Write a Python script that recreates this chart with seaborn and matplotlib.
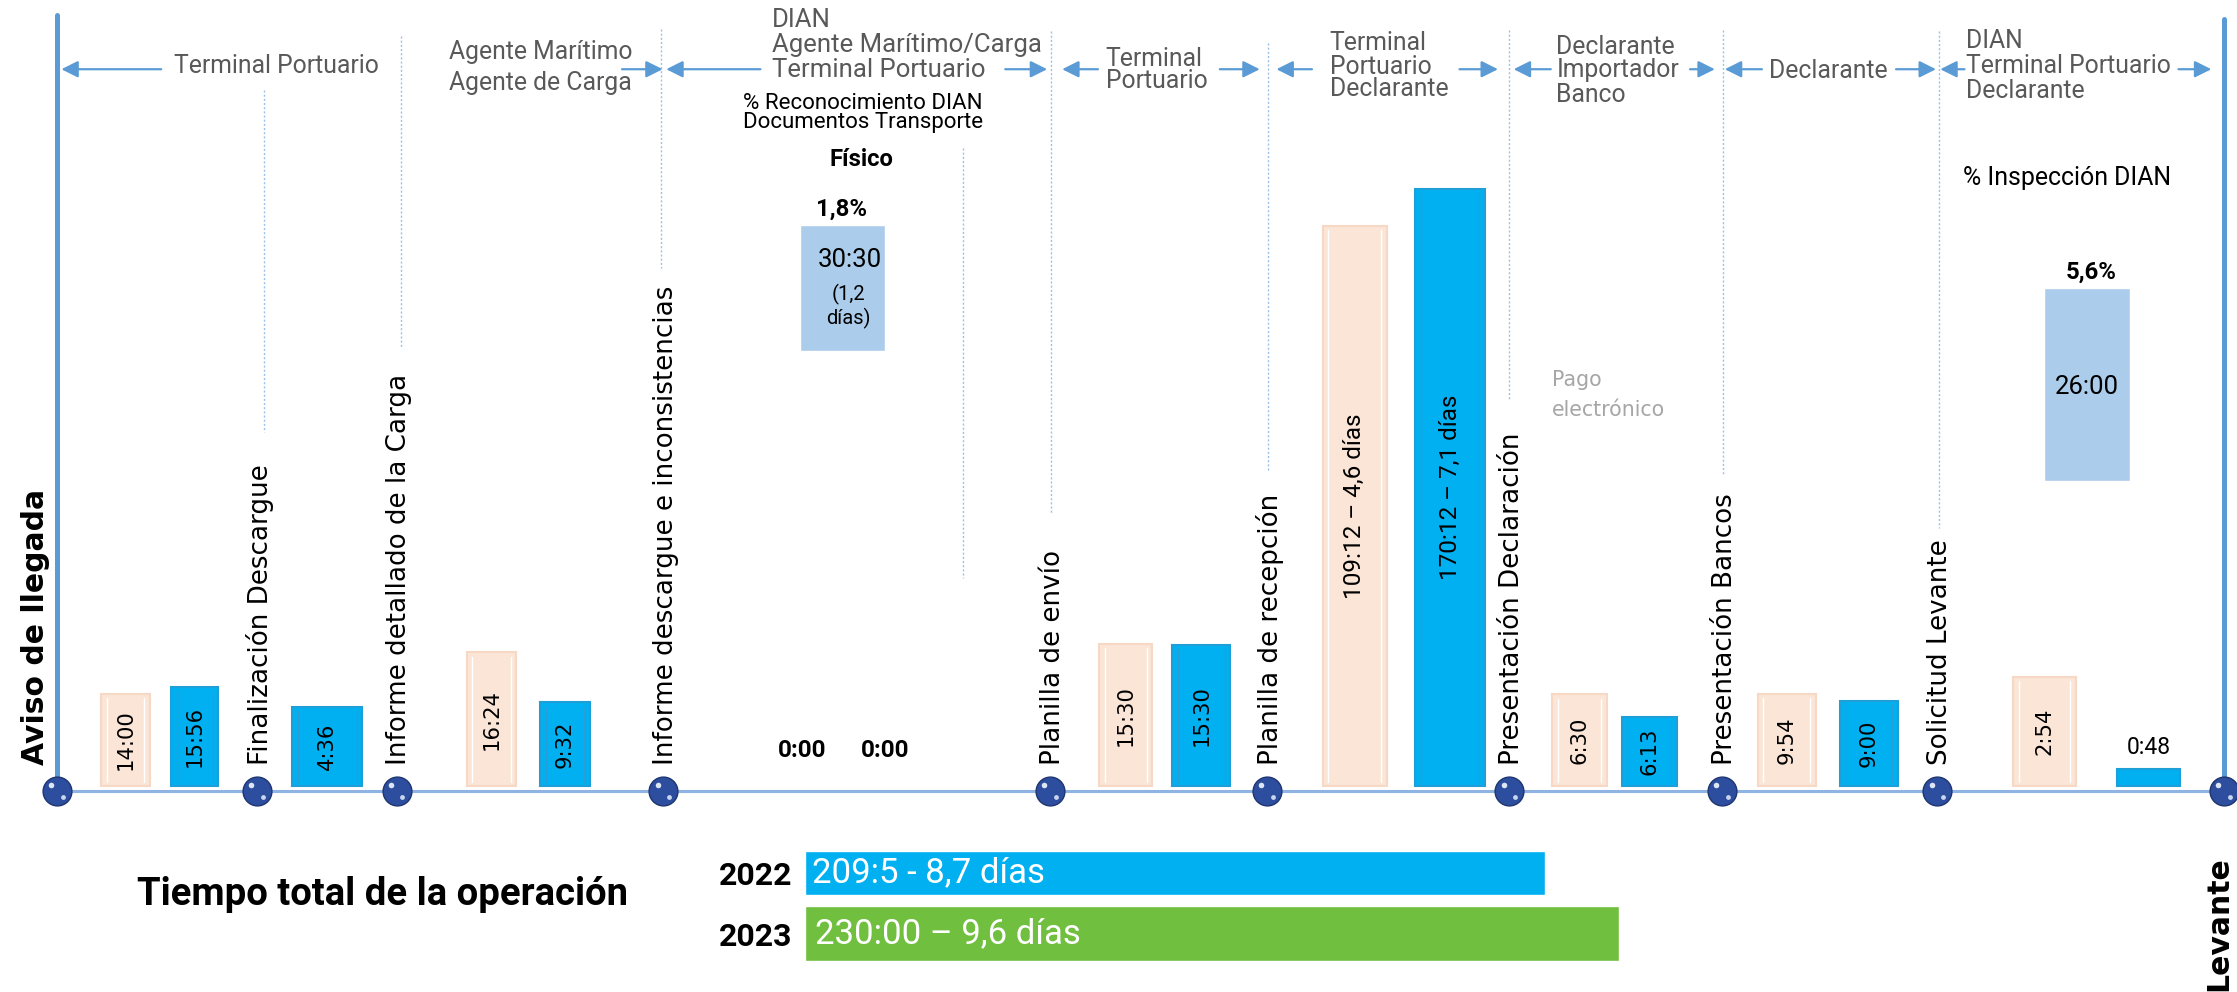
import numpy as np
import pandas as pd
import seaborn as sns
import matplotlib.pyplot as plt

sns.set_theme(style='white')
plt.rcParams['font.family'] = ['DejaVu Sans']

# ---- datos ----
hitos = ['Aviso de llegada', 'Finalización Descargue', 'Informe detallado de la Carga',
         'Informe descargue e inconsistencias', 'Planilla de envío', 'Planilla de recepción',
         'Presentación Declaración', 'Presentación Bancos', 'Solicitud Levante', 'Levante']

responsables = [['Terminal Portuario'],
                ['Agente Marítimo', 'Agente de Carga'],
                ['DIAN', 'Agente Marítimo/Carga', 'Terminal Portuario'],
                ['Terminal', 'Portuario'],
                ['Terminal', 'Portuario', 'Declarante'],
                ['Declarante', 'Importador', 'Banco'],
                ['Declarante'],
                ['DIAN', 'Terminal Portuario', 'Declarante']]

# tiempos por tramo (hh:mm) - serie clara y serie azul
tiempo_a = ['14:00', None, '16:24', '0:00', '15:30', '109:12 – 4,6 días', '6:30', '9:54', '2:54']
tiempo_b = ['15:56', '4:36', '9:32', '0:00', '15:30', '170:12 – 7,1 días', '6:13', '9:00', '0:48']
# altura de cada barra tal como aparece en la figura
altura_a = [65, 0, 94, 0, 100, 393, 64.5, 65, 77]
altura_b = [70, 56, 59, 0, 99, 418.5, 49, 60, 12]

reconocimiento = ['% Reconocimiento DIAN', 'Documentos Transporte']
fisico_pct = '1,8%'
fisico_tiempo = ['30:30', '(1,2', 'días)']
inspeccion_pct = '5,6%'
inspeccion_tiempo = '26:00'

total_anios = ['2022', '2023']
total_horas = [209.08, 230.0]
total_texto = ['209:5 - 8,7 días', '230:00 – 9,6 días']

# ---- disposicion (coordenadas del lienzo) ----
x_hitos = [40, 180, 278, 465, 736, 888, 1058, 1207, 1358, 1559]
pos_a = [88, np.nan, 344.5, 562.5, 789, 949.5, 1107, 1252.5, 1433]
pos_b = [136.5, 229.5, 396, 620.5, 842, 1016.5, 1156, 1310, 1506]
ancho_a = [34, 0, 35, 0, 37.5, 45, 38.5, 41, 44]
ancho_b = [33, 49, 34.5, 0, 41, 49, 38.5, 41, 44]

resp_x = [122, 315, 541, 775, 932, 1091, 1240, 1378]
resp_y = [[46], [36.5, 58], [14, 31.5, 49], [41, 57], [30, 47, 62.6], [33, 49, 66.6], [49.5], [29, 46, 64]]
resp_size = [17.8, 17.8, 18.5, 17.8, 17.8, 17.8, 17.8, 17.8]
flechas = [(113, 43), (436, 464.5), (533, 467), (704.6, 734), (769.6, 744.5), (855, 883),
           (919.6, 894.7), (1023, 1050), (1087, 1061), (1184.6, 1202), (1235, 1209),
           (1329, 1357), (1377, 1360), (1527, 1550)]
punteadas = [(185, 63, 303), (281, 25, 244), (463, 20, 188), (675, 104, 405), (737, 22, 360),
             (889, 30, 330), (1058, 21, 280), (1208, 21, 332), (1359, 22, 370)]

CALIBRI = ['Roboto', 'DejaVu Sans']
GRIS = '#595959'
MELOCOTON = '#FBE5D6'
AZUL = '#00B0F0'
AZUL_CLARO = '#ABCDEB'
VERDE = '#70BF3E'
LINEA = '#5B9BD5'
BASE = 551  # y de lienzo donde arrancan las barras


def yy(v):
    return BASE - v


fig = plt.figure(figsize=(22.37, 9.92), dpi=100)
ax = fig.add_axes([0, 0, 1, 1])


def barras(pos, alto, ancho, color, borde, brillo):
    df = pd.DataFrame({'pos': pos, 'alto': alto, 'ancho': ancho}).dropna()
    df = df[df['alto'] > 0].reset_index(drop=True)
    n0 = len(ax.patches)
    sns.barplot(data=df, x='pos', y='alto', native_scale=True, orient='x', color=color,
                saturation=1, width=0.2, errorbar=None, edgecolor=borde, linewidth=1.5, ax=ax)
    for p in ax.patches[n0:]:
        cx = p.get_x() + p.get_width() / 2
        i = (df['pos'] - cx).abs().idxmin()
        w = df.loc[i, 'ancho']
        p.set_x(df.loc[i, 'pos'] - w / 2)
        p.set_width(w)
        # filetes interiores del bisel
        h = df.loc[i, 'alto']
        if h > 20:
            for dx in (-w / 2 + 4, w / 2 - 4):
                ax.plot([df.loc[i, 'pos'] + dx] * 2, [3, h - 3], color=brillo, lw=1.0, zorder=3)


barras(pos_a, altura_a, ancho_a, MELOCOTON, '#F6D8C4', 'white')
barras(pos_b, altura_b, ancho_b, AZUL, '#1E9FD8', '#2A9ED6')

# etiquetas de las barras
for pos, alto, txt in list(zip(pos_a, altura_a, tiempo_a)) + list(zip(pos_b, altura_b, tiempo_b)):
    if txt is None:
        continue
    if alto == 0:
        ax.text(pos, 25, txt, ha='center', va='center', fontsize=17.5, fontweight='bold',
                family=CALIBRI, color='black')
    elif alto < 30:
        ax.text(pos, alto + 15.5, txt, ha='center', va='center', fontsize=16.5,
                family=CALIBRI, color='black')
    elif len(txt) > 6:
        ax.text(pos, alto / 2, txt, rotation=90, ha='center', va='center', fontsize=17.5,
                family=CALIBRI, color='black', zorder=4)
    else:
        ax.text(pos, alto / 2, txt, rotation=90, ha='center', va='center', fontsize=15.2,
                color='black', zorder=4)

# linea de tiempo
ax.plot([x_hitos[0], x_hitos[-1]], [-3.5, -3.5], color='#8FB4E3', lw=2.2, zorder=1)
ax.plot([x_hitos[0], x_hitos[0]], [-3, yy(10.5)], color=LINEA, lw=3.6, zorder=1)
ax.plot([x_hitos[-1], x_hitos[-1]], [-3, yy(13)], color=LINEA, lw=3.6, zorder=1)
for x, y0, y1 in punteadas:
    ax.plot([x, x], [yy(y0), yy(y1)], color='#9BC2E6', lw=1.0, ls=(0, (1.5, 1.5)), zorder=1)

ax.scatter(x_hitos, [-3] * len(x_hitos), s=430, color='#2D4E9E', edgecolor='#1E3570',
           linewidth=1, zorder=5)
ax.scatter(np.array(x_hitos) - 4, [1] * len(x_hitos), s=16, color='#DCE6F5', zorder=6, lw=0)
ax.scatter(np.array(x_hitos) + 4, [-7.5] * len(x_hitos), s=12, color='#C9D7EE', zorder=6, lw=0)

# nombres de los hitos
ax.text(25, 15, hitos[0], rotation=90, ha='center', va='bottom', fontsize=21.5,
        fontweight='bold', color='black')
for x, nombre in zip(x_hitos[1:-1], hitos[1:-1]):
    ax.text(x + 2, 15, nombre, rotation=90, ha='center', va='bottom', fontsize=18.8,
            color='black')
ax.text(1555, yy(694), hitos[-1], rotation=90, ha='center', va='bottom', fontsize=21.5,
        fontweight='bold', color='black')

# responsables y flechas
for lineas, x, ys, fs in zip(responsables, resp_x, resp_y, resp_size):
    for t, y in zip(lineas, ys):
        ax.text(x, yy(y), t, ha='left', va='center', fontsize=fs, family=CALIBRI, color=GRIS)
for x0, x1 in flechas:
    ax.annotate('', xy=(x1, yy(48.5)), xytext=(x0, yy(48.5)),
                arrowprops=dict(arrowstyle='-|>,head_length=0.5,head_width=0.25',
                                color=LINEA, lw=1.6, mutation_scale=20, shrinkA=0, shrinkB=0))

# reconocimiento DIAN (fisico)
ax.text(605, yy(72.5), reconocimiento[0], ha='center', va='center', fontsize=16,
        family=CALIBRI, color='black')
ax.text(605, yy(86), reconocimiento[1], ha='center', va='center', fontsize=16,
        family=CALIBRI, color='black')
ax.text(604, yy(112), 'Físico', ha='center', va='center', fontsize=17.2, fontweight='bold',
        family=CALIBRI, color='black')
ax.text(590, yy(146.5), fisico_pct, ha='center', va='center', fontsize=17.2, fontweight='bold',
        family=CALIBRI, color='black')
ax.bar([590.5], [88.5], bottom=[yy(246)], width=59, color=AZUL_CLARO, zorder=2)
ax.text(595.5, yy(182), fisico_tiempo[0], ha='center', va='center', fontsize=18.5,
        family=CALIBRI, color='black', zorder=3)
ax.text(595, yy(206), fisico_tiempo[1], ha='center', va='center', fontsize=14.5,
        family=CALIBRI, color='black', zorder=3)
ax.text(595, yy(223), fisico_tiempo[2], ha='center', va='center', fontsize=14.5,
        family=CALIBRI, color='black', zorder=3)

# inspeccion DIAN
ax.text(1449, yy(125), '% Inspección DIAN', ha='center', va='center', fontsize=17.9,
        family=CALIBRI, color='black')
ax.text(1466, yy(190.6), inspeccion_pct, ha='center', va='center', fontsize=17.2,
        fontweight='bold', family=CALIBRI, color='black')
ax.bar([1463], [135], bottom=[yy(337)], width=60, color=AZUL_CLARO, zorder=2)
ax.text(1463, yy(271), inspeccion_tiempo, ha='center', va='center', fontsize=18.5,
        family=CALIBRI, color='black', zorder=3)

ax.text(1088, yy(266), 'Pago', ha='left', va='center', fontsize=14.8, color='#A6A6A6')
ax.text(1088, yy(287), 'electrónico', ha='left', va='center', fontsize=14.8, color='#A6A6A6')

ax.text(268, yy(627), 'Tiempo total de la operación', ha='center', va='center', fontsize=27.5,
        fontweight='bold', family=CALIBRI, color='black')

ax.set_xlim(0, 1568)
ax.set_ylim(yy(695), yy(0))
ax.axis('off')

# ---- tiempo total ----
escala = 2.4805  # px de lienzo por hora
ax2 = fig.add_axes([564 / 1568, (695 - 675.6) / 695, 1000 / 1568, 85.5 / 695])
tot = pd.DataFrame({'anio': total_anios, 'horas': total_horas})
sns.barplot(data=tot, y='anio', x='horas', hue='anio', palette=[AZUL, VERDE], orient='y',
            saturation=1, width=0.8, legend=False, ax=ax2)
for p, h, c in zip(ax2.patches, [0.725, 0.9], [0, 1]):
    p.set_y(c - h / 2)
    p.set_height(h)
for i, t in enumerate(total_texto):
    ax2.text(2.2 + 0.6 * i, i, t, ha='left', va='center', fontsize=25, family=CALIBRI,
             color='white')
ax2.set_xlim(0, 1000 / escala)
ax2.set_ylim(1.5, -0.5)
ax2.set_xlabel('')
ax2.set_ylabel('')
ax2.set_xticks([])
ax2.tick_params(axis='y', length=0, pad=9)
for lab in ax2.get_yticklabels():
    lab.set_fontsize(23)
    lab.set_fontweight('bold')
    lab.set_family(CALIBRI)
    lab.set_color('black')
for s in ax2.spines.values():
    s.set_visible(False)
ax2.set_facecolor('none')

fig.savefig('out.png', dpi=100, facecolor='white')
